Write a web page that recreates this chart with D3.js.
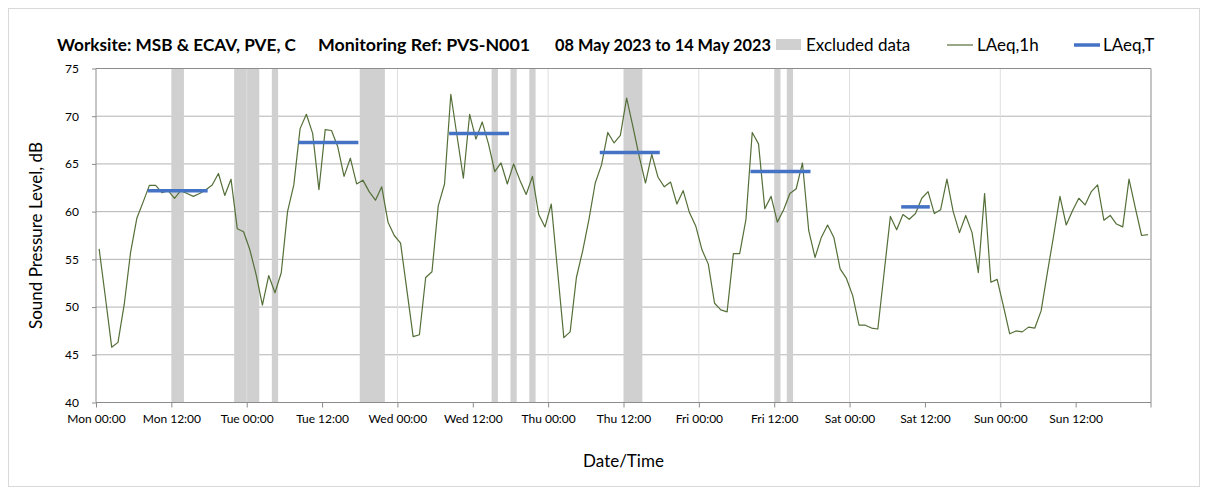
<!DOCTYPE html>
<html>
<head>
<meta charset="utf-8">
<script src="https://cdn.jsdelivr.net/npm/d3@7"></script>
<style>
  body { margin: 0; background: #fff; }
  text { font-family: Lato, "Open Sans", sans-serif; fill: #000; }
</style>
</head>
<body>
<script>
// hourly LAeq,1h values from Mon 00:00 (one per hour, 168 hours)
const laeq1h = [
  56.1, 51.0, 45.8, 46.3, 50.3, 55.7, 59.3, 61.0, 62.75, 62.75, 62.0, 62.2,
  61.4, 62.2, 61.9, 61.6, 61.9, 62.3, 62.8, 64.0, 61.7, 63.4, 58.2, 57.9,
  56.0, 53.4, 50.2, 53.3, 51.5, 53.6, 60.0, 62.8, 68.7, 70.2, 68.2, 62.3,
  68.6, 68.5, 66.8, 63.7, 65.6, 62.9, 63.3, 62.1, 61.2, 62.6, 58.9, 57.5,
  56.7, 51.8, 46.9, 47.1, 53.1, 53.7, 60.6, 62.9, 72.3, 67.9, 63.5, 70.2,
  67.6, 69.4, 67.1, 64.2, 65.1, 62.9, 65.0, 63.3, 61.8, 63.7, 59.7, 58.4,
  60.8, 53.8, 46.8, 47.4, 53.1, 55.9, 59.2, 63.0, 64.9, 68.3, 67.2, 68.0,
  71.9, 68.9, 65.8, 63.0, 66.0, 63.6, 62.6, 63.1, 60.8, 62.2, 59.9, 58.5,
  56.0, 54.5, 50.4, 49.7, 49.5, 55.6, 55.6, 59.2, 68.3, 67.1, 60.3, 61.6,
  58.9, 60.2, 61.9, 62.4, 65.1, 58.0, 55.2, 57.3, 58.6, 57.3, 54.0, 53.0,
  51.2, 48.1, 48.1, 47.8, 47.7, 53.6, 59.5, 58.1, 59.7, 59.2, 59.8, 61.4,
  62.1, 59.8, 60.2, 63.4, 60.0, 57.8, 59.6, 57.8, 53.6, 61.9, 52.6, 52.9,
  50.1, 47.2, 47.5, 47.4, 47.9, 47.8, 49.6, 53.6, 57.5, 61.6, 58.6, 60.1,
  61.4, 60.7, 62.1, 62.8, 59.1, 59.6, 58.7, 58.4, 63.4, 60.4, 57.5, 57.6
];

const tickLabels = [
  "Mon 00:00", "Mon 12:00", "Tue 00:00", "Tue 12:00", "Wed 00:00", "Wed 12:00",
  "Thu 00:00", "Thu 12:00", "Fri 00:00", "Fri 12:00", "Sat 00:00", "Sat 12:00",
  "Sun 00:00", "Sun 12:00"
];
const yTicks = [40, 45, 50, 55, 60, 65, 70, 75];

// excluded hours (start hour, end hour)
const excludedStart = [12, 22, 28, 42, 63, 66, 69, 84, 108, 110];
const excludedEnd = [14, 26, 29, 46, 64, 67, 70, 87, 109, 111];

// LAeq,T periods (first hour, last hour, level)
const periodStart = [8, 32, 56, 80, 104, 128];
const periodEnd = [17, 41, 65, 89, 113, 132];
const periodLevel = [62.2, 67.25, 68.2, 66.2, 64.2, 60.5];

const width = 1208, height = 495;
const margin = { top: 68.5, right: 57, bottom: 92.5, left: 96 };
const lineColor = "#546f38";
const blue = "#4472c4";
const bandColor = "#d0d0d0";

const svg = d3.select("body").append("svg")
  .attr("width", width).attr("height", height);

const x = d3.scaleLinear().domain([0, 168]).range([margin.left, width - margin.right]);
const y = d3.scaleLinear().domain([40, 75]).range([height - margin.bottom, margin.top]);

// outer frame
svg.append("rect")
  .attr("x", 8.5).attr("y", 8.5)
  .attr("width", width - 17).attr("height", height - 17)
  .attr("fill", "none").attr("stroke", "#d9d9d9");

// horizontal gridlines
svg.append("g")
  .selectAll("line")
  .data(yTicks.slice(1))
  .enter()
  .append("line")
  .attr("x1", x(0)).attr("x2", x(168))
  .attr("y1", (d) => y(d)).attr("y2", (d) => y(d))
  .attr("stroke", "#b3b3b3");

// excluded data bands
svg.append("g")
  .selectAll("rect")
  .data(excludedStart)
  .enter()
  .append("rect")
  .attr("x", (d) => x(d))
  .attr("width", (d, i) => x(excludedEnd[i]) - x(d))
  .attr("y", y(75))
  .attr("height", y(40) - y(75))
  .attr("fill", bandColor);

// vertical gridlines at each day
svg.append("g")
  .selectAll("line")
  .data(d3.range(24, 168, 24))
  .enter()
  .append("line")
  .attr("x1", (d) => x(d)).attr("x2", (d) => x(d))
  .attr("y1", y(75)).attr("y2", y(40))
  .attr("stroke", "#dedede");

// plot border top / right
svg.append("path")
  .attr("d", `M${x(0)},${y(75)}H${x(168)}V${y(40)}`)
  .attr("fill", "none").attr("stroke", "#8c8c8c");

// x axis
const xAxis = d3.axisBottom(x)
  .tickValues(d3.range(0, 168, 12))
  .tickFormat((d, i) => tickLabels[i])
  .tickSize(5).tickPadding(7);
const gx = svg.append("g")
  .attr("transform", `translate(0,${y(40)})`)
  .call(xAxis);
gx.select(".domain").attr("stroke", "#8c8c8c").attr("d", `M${x(0)},0H${x(168)}V5`);
gx.selectAll(".tick line").attr("stroke", "#8c8c8c");
gx.selectAll(".tick text").style("font-size", "12px").attr("fill", "#000");

// y axis
const yAxis = d3.axisLeft(y).tickValues(yTicks).tickSize(5).tickPadding(12);
const gy = svg.append("g")
  .attr("transform", `translate(${x(0)},0)`)
  .call(yAxis);
gy.select(".domain").attr("stroke", "#8c8c8c").attr("d", `M0,${y(75)}V${y(40)}`);
gy.selectAll(".tick line").attr("stroke", "#8c8c8c").attr("x1", -4).attr("x2", 0);
gy.selectAll(".tick text").style("font-size", "12px").attr("fill", "#000");

// LAeq,1h line
const line = d3.line()
  .x((d, i) => x(i + 0.5))
  .y((d) => y(d));
svg.append("path")
  .datum(laeq1h)
  .attr("d", line)
  .attr("fill", "none")
  .attr("stroke", lineColor)
  .attr("stroke-width", 1.2)
  .attr("stroke-linejoin", "round");

// LAeq,T lines
svg.append("g")
  .selectAll("line")
  .data(periodLevel)
  .enter()
  .append("line")
  .attr("x1", (d, i) => x(periodStart[i] + 0.5))
  .attr("x2", (d, i) => x(periodEnd[i] + 0.5))
  .attr("y1", (d) => y(d)).attr("y2", (d) => y(d))
  .attr("stroke", blue)
  .attr("stroke-width", 3.5)
  .attr("stroke-linecap", "square");

// axis titles
svg.append("text")
  .attr("x", (x(0) + x(168)) / 2).attr("y", 467)
  .attr("text-anchor", "middle")
  .style("font-size", "17px")
  .text("Date/Time");

svg.append("text")
  .attr("transform", `translate(42,${(y(40) + y(75)) / 2}) rotate(-90)`)
  .attr("text-anchor", "middle")
  .style("font-size", "17px")
  .text("Sound Pressure Level, dB");

// title
const title = svg.append("g").style("font-size", "17px").style("font-weight", "bold");
title.append("text").attr("x", 57).attr("y", 51)
  .attr("textLength", 239).attr("lengthAdjust", "spacingAndGlyphs")
  .text("Worksite: MSB & ECAV, PVE, C");
title.append("text").attr("x", 318).attr("y", 51)
  .attr("textLength", 212).attr("lengthAdjust", "spacingAndGlyphs")
  .text("Monitoring Ref: PVS-N001");
title.append("text").attr("x", 555).attr("y", 51)
  .attr("textLength", 216).attr("lengthAdjust", "spacingAndGlyphs")
  .text("08 May 2023 to 14 May 2023");

// legend
const legend = svg.append("g").style("font-size", "17px");
legend.append("rect").attr("x", 776).attr("y", 39).attr("width", 25).attr("height", 11).attr("fill", bandColor);
legend.append("text").attr("x", 806).attr("y", 51).text("Excluded data");
legend.append("line").attr("x1", 947).attr("x2", 973).attr("y1", 45).attr("y2", 45)
  .attr("stroke", lineColor).attr("stroke-width", 1.2);
legend.append("text").attr("x", 977).attr("y", 51).text("LAeq,1h");
legend.append("line").attr("x1", 1074).attr("x2", 1100).attr("y1", 45).attr("y2", 45)
  .attr("stroke", blue).attr("stroke-width", 3.5);
legend.append("text").attr("x", 1103).attr("y", 51).text("LAeq,T");
</script>
</body>
</html>
